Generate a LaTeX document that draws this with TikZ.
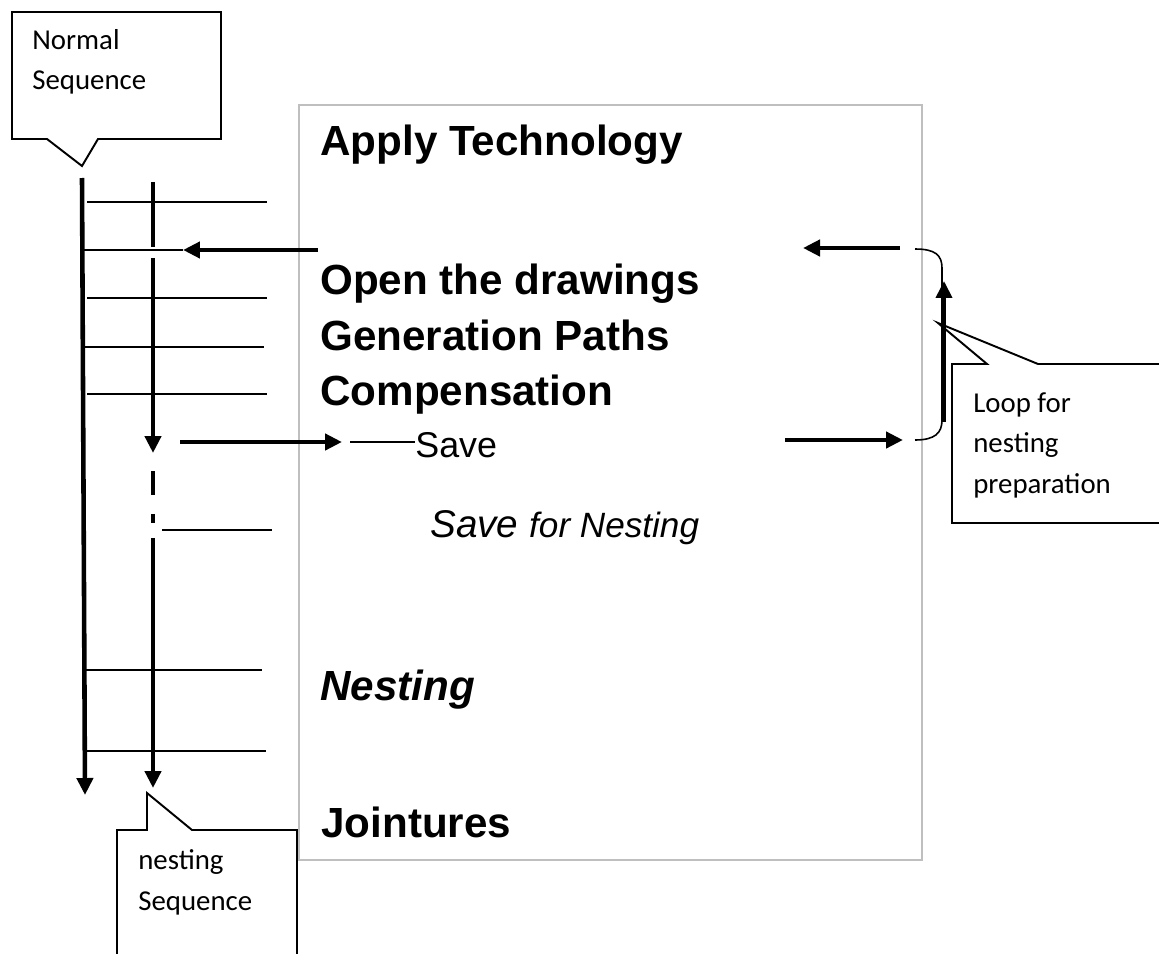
\documentclass[tikz,border=0pt]{standalone}
\usepackage{fontspec}
\setmainfont{Liberation Sans}
\newfontfamily\callfont{Carlito}
\usetikzlibrary{positioning,arrows.meta}
\definecolor{boxgray}{RGB}{191,191,191}

\begin{document}
\begin{tikzpicture}[x=0.02cm, y=-0.02cm,
    thinline/.style = {line width=1.1pt},
    boldline/.style = {line width=2.6pt},
    arrowline/.style = {boldline, -{Triangle[length=3.4mm, width=3.2mm]}},
    callout/.style = {draw, line width=1.1pt},
    steptext/.style = {anchor=base west, inner sep=0pt, font=\fontsize{24}{29}\selectfont\bfseries},
    calltext/.style = {anchor=base west, inner sep=0pt, align=left, font=\callfont\fontsize{16.4}{22.8}\selectfont}]
    \useasboundingbox (0,0) rectangle (1159,953);
    \clip (0,0) rectangle (1159,953);
    % Frame
    \draw[boxgray, line width=1.1pt] (299,105) rectangle (922,860);
    % Steps
    \node[steptext] (apply) at (320,155) {Apply Technology};
    \node[steptext] (open) at (320,294) {Open the drawings};
    \node[steptext] (paths) at (320,350) {Generation Paths};
    \node[steptext] (comp) at (320,405) {Compensation};
    \node[anchor=base west, inner sep=0pt, font=\fontsize{20.4}{24}\selectfont] (save) at (415,457) {Save};
    \node[anchor=base west, inner sep=0pt, font=\itshape] (savenest) at (430,537)
        {\fontsize{22}{26}\selectfont Save \fontsize{20}{24}\selectfont for Nesting};
    \node[steptext, font=\fontsize{24}{29}\selectfont\bfseries\itshape] (nesting) at (320,700) {Nesting};
    \node[steptext] (joint) at (321,837) {Jointures};
    % Callouts
    \draw[callout] (12,12) -- (221,12) -- (221,139) -- (98,139) -- (82,166) -- (47,139) -- (12,139) -- cycle;
    \node[calltext] (normal) at (32,90) {Normal\\Sequence};
    \draw[callout] (952,364) -- (987,364) -- (938,323) -- (1038,364) -- (1180,364) -- (1180,523) -- (952,523) -- cycle;
    \node[calltext] (loop) at (973,493) {Loop for\\nesting\\preparation};
    \draw[callout] (117,830) -- (147,830) -- (147,793) -- (192,830) -- (297,830) -- (297,980) -- (117,980) -- cycle;
    \node[calltext] (nestseq) at (138,910) {nesting\\Sequence};
    % Normal sequence
    \coordinate (n1) at (82,178);
    \coordinate (n2) at (85,795);
    \draw[arrowline] (n1) -- (n2);
    % Nesting sequence
    \coordinate (m1) at (153,182);
    \coordinate (m2) at (153,247);
    \coordinate (m3) at (153,258);
    \coordinate (m4) at (153,453);
    \coordinate (m5) at (153,538);
    \coordinate (m6) at (153,788);
    \draw[boldline] (m1) -- (m2);
    \draw[arrowline] (m3) -- (m4);
    \draw[boldline] (153,471) -- (153,495);
    \draw[boldline] (153,514) -- (153,523);
    \draw[arrowline] (m5) -- (m6);
    % Ticks
    \draw[thinline] (87,202) -- (267,202);
    \draw[thinline] (82,250) -- (183,250);
    \draw[thinline] (87,298) -- (267,298);
    \draw[thinline] (85,347) -- (264,347);
    \draw[thinline] (87,394) -- (267,394);
    \draw[thinline] (162,530) -- (272,530);
    \draw[thinline] (82,670) -- (262,670);
    \draw[thinline] (87,751) -- (266,751);
    % Arrows
    \coordinate (a1) at (318,250);
    \coordinate (a2) at (183,250);
    \draw[arrowline] (a1) -- (a2);
    \coordinate (s1) at (180,442);
    \coordinate (s2) at (342,442);
    \coordinate (s3) at (350,442);
    \draw[arrowline] (s1) -- (s2);
    \draw[thinline] (s3) -- (s3 -| save.west);
    \coordinate (r1) at (900,248);
    \coordinate (r2) at (803,248);
    \draw[arrowline] (r1) -- (r2);
    \coordinate (r3) at (785,440);
    \coordinate (r4) at (903,440);
    \draw[arrowline] (r3) -- (r4);
    % Loop
    \coordinate (l1) at (915,249);
    \coordinate (l2) at (915,440);
    \draw[line width=0.9pt] (l1) .. controls (935,249) and (942,255) .. (942,268) -- (942,420) .. controls (942,433) and (935,440) .. (l2);
    \coordinate (u1) at (944,422);
    \coordinate (u2) at (944,281);
    \draw[arrowline, line width=2.2pt] (u1) -- (u2);
\end{tikzpicture}
\end{document}
